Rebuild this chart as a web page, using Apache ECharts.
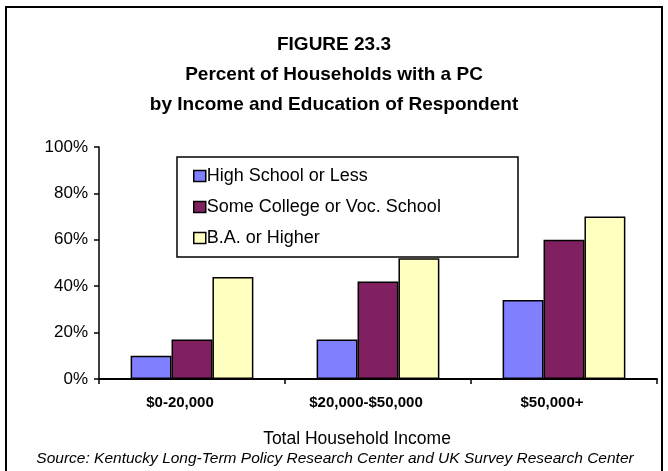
<!DOCTYPE html>
<html>
<head>
<meta charset="utf-8">
<script src="https://cdn.jsdelivr.net/npm/echarts@6/dist/echarts.min.js"></script>
<style>
  html, body { margin: 0; padding: 0; background: #fff; }
  #chart { width: 668px; height: 471px; }
</style>
</head>
<body>
<div id="chart"></div>
<script>
// Income brackets along the x axis
const incomeBrackets = ['$0-20,000', '$20,000-$50,000', '$50,000+'];
// Education groups (series) and their share of households with a PC, percent
const seriesNames = ['High School or Less', 'Some College or Voc. School', 'B.A. or Higher'];
const highSchoolOrLess = [10, 17, 34];
const someCollege = [17, 42, 60];
const baOrHigher = [44, 52, 70];
const seriesColors = ['#8080ff', '#802060', '#ffffc0'];
// Y axis ticks
const yTicks = [0, 20, 40, 60, 80, 100];

const values = [highSchoolOrLess, someCollege, baOrHigher];
const font = 'Arial, "Liberation Sans", sans-serif';

const chart = echarts.init(document.getElementById('chart'));
chart.setOption({
  animation: false,
  backgroundColor: '#fff',
  textStyle: { fontFamily: font },
  title: {
    text: 'FIGURE 23.3\nPercent of Households with a PC\nby Income and Education of Respondent',
    left: 'center',
    top: 25,
    textStyle: { fontFamily: font, fontSize: 19, fontWeight: 'bold', color: '#000', lineHeight: 30 }
  },
  graphic: [
    {
      type: 'rect',
      shape: { x: 6, y: 7, width: 656, height: 470 },
      style: { fill: 'none', stroke: '#000', lineWidth: 2 },
      silent: true
    },
    {
      type: 'rect',
      shape: { x: 177, y: 157, width: 341, height: 100 },
      style: { fill: '#fff', stroke: '#000', lineWidth: 1.5 },
      z: 5,
      silent: true
    },
    {
      type: 'text',
      x: 357,
      y: 439,
      style: { text: 'Total Household Income', fontFamily: font, fontSize: 17.5, fill: '#000', align: 'center', verticalAlign: 'middle' }
    },
    {
      type: 'text',
      x: 335,
      y: 459,
      style: { text: 'Source: Kentucky Long-Term Policy Research Center and UK Survey Research Center', fontFamily: font, fontSize: 15.5, fontStyle: 'italic', fill: '#000', align: 'center', verticalAlign: 'middle' }
    }
  ],
  legend: {
    orient: 'vertical',
    left: 188,
    top: 162,
    itemWidth: 12,
    itemHeight: 11,
    itemGap: 13,
    z: 10,
    data: seriesNames.map((name) => ({ name, icon: 'rect' })),
    itemStyle: { borderColor: '#000', borderWidth: 1.5 },
    textStyle: { fontFamily: font, fontSize: 18, color: '#000', padding: [0, 0, 0, -4] }
  },
  grid: { left: 99, right: 11, top: 147, bottom: 92 },
  xAxis: {
    type: 'category',
    data: incomeBrackets,
    axisLine: { lineStyle: { color: '#000', width: 2 } },
    axisTick: { show: true, length: 5, lineStyle: { color: '#000', width: 1.5 } },
    axisLabel: { fontFamily: font, fontSize: 15, fontWeight: 'bold', color: '#000', margin: 16, padding: [0, 24, 0, 0] }
  },
  yAxis: {
    type: 'value',
    min: yTicks[0],
    max: yTicks[yTicks.length - 1],
    interval: 20,
    splitLine: { show: false },
    axisLine: { show: true, lineStyle: { color: '#000', width: 1.5 } },
    axisTick: { show: true, length: 5, lineStyle: { color: '#000', width: 1.5 } },
    axisLabel: { fontFamily: font, fontSize: 17, color: '#000', margin: 11, formatter: '{value}%' }
  },
  series: seriesNames.map((name, i) => ({
    name,
    type: 'bar',
    data: values[i],
    barGap: '0%',
    barCategoryGap: '34%',
    itemStyle: { color: seriesColors[i], borderColor: '#000', borderWidth: 1.5 }
  }))
});
</script>
</body>
</html>
